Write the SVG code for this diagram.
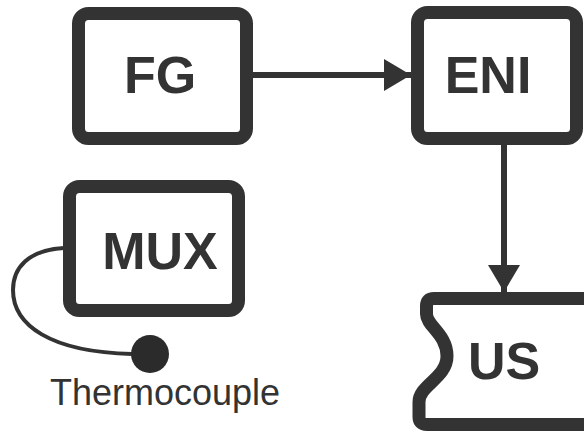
<svg xmlns="http://www.w3.org/2000/svg" width="584" height="431" viewBox="0 0 584 431">
  <style>
    .box { fill: #ffffff; stroke: #333333; stroke-width: 13; stroke-linejoin: round; }
    .label { font-family: "Liberation Sans", Arial, sans-serif; font-weight: bold; font-size: 52px; fill: #333333; text-anchor: middle; }
    .caption { font-family: "Liberation Sans", Arial, sans-serif; font-size: 36px; fill: #333333; text-anchor: middle; }
    .wire { fill: none; stroke: #333333; stroke-width: 6; }
    .cable { fill: none; stroke: #333333; stroke-width: 4; }
  </style>
  <defs>
    <marker id="arrow" markerUnits="userSpaceOnUse" viewBox="0 0 27 32" refX="27" refY="16" markerWidth="27" markerHeight="32" orient="auto">
      <path d="M0 0 L27 16 L0 32 Z" fill="#333333"/>
    </marker>
  </defs>
  <rect width="584" height="431" fill="#ffffff"/>

  <g id="connectors">
    <line class="wire" x1="253" y1="75" x2="411" y2="75" marker-end="url(#arrow)"/>
    <line class="wire" x1="504" y1="145" x2="504" y2="292" marker-end="url(#arrow)"/>
    <path class="cable" d="M 64 248 C 28 250, 13 268, 13 290 C 13 325, 50 352, 132 354"/>
  </g>

  <g id="fg">
    <rect class="box" x="78.5" y="13.5" width="168" height="125" rx="10"/>
    <text class="label" x="160" y="93">FG</text>
  </g>

  <g id="eni">
    <rect class="box" x="417.5" y="12.5" width="159" height="126" rx="10"/>
    <text class="label" x="488" y="93">ENI</text>
  </g>

  <g id="mux">
    <rect class="box" x="69.5" y="186.5" width="169" height="124" rx="10"/>
    <text class="label" x="160" y="269">MUX</text>
  </g>

  <g id="us">
    <path class="box" d="M 600 298.5 H 434 Q 426.5 298.5 426.5 306 V 314 C 426.5 326, 447 334, 447 356 C 447 378, 419 385, 419 402 V 417 Q 419 424.5 427 424.5 H 600"/>
    <text class="label" x="504" y="379">US</text>
  </g>

  <g id="thermocouple">
    <circle cx="150" cy="354" r="19" fill="#2b2b2b"/>
    <text class="caption" x="165" y="405">Thermocouple</text>
  </g>
</svg>
